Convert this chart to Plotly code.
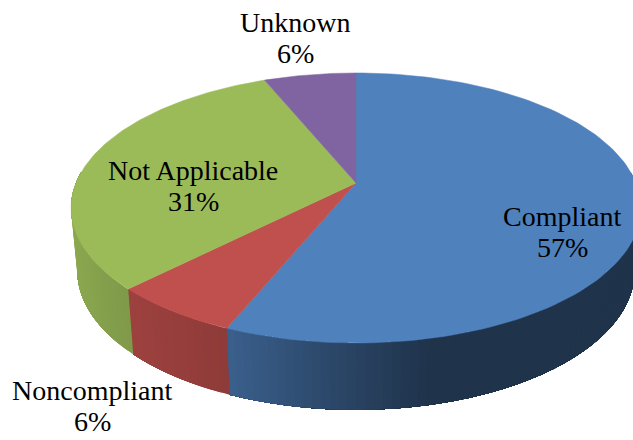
import numpy as np
import plotly.graph_objects as go

categories = ["Compliant", "Noncompliant", "Not Applicable", "Unknown"]
slice_counts = [9, 1, 5, 1]
percent_labels = ["57%", "6%", "31%", "6%"]
colors = [(79, 129, 189), (192, 80, 77), (155, 187, 89), (128, 100, 162)]
label_centres = [(562, 216), (92, 390), (193, 170), (295, 22)]
label_gaps = [31, 31, 31, 31]

W, H = 633, 440
CX, CY = 356, 183
B, A, C = 280.0, 130.4, 0.185
RIM_SX, RIM_SY, RIM_D = 0.978, 1.03, 62


def project(theta):
    u, v = np.sin(theta), np.cos(theta)
    d = 1 + C * v
    return CX + B * u / d, CY - A * v / d


def rim_bottom(x, y):
    return CX + (x - CX) * RIM_SX, CY + (y - CY) * RIM_SY + RIM_D


def shade_at(x):
    return np.interp(x, [70, 130, 230, 330, 430, 633], [0.90, 0.82, 0.74, 0.56, 0.40, 0.40])


fracs = np.array(slice_counts, dtype=float) / sum(slice_counts)
edges = np.concatenate([[0], np.cumsum(fracs)]) * 2 * np.pi

fig = go.Figure()

# Rim: shaded quads along the front of each slice; each reaches to the slice's
# far end and is overpainted by the next, so no seams appear between bands.
for i, col in enumerate(colors):
    lo = max(edges[i], np.radians(85))
    hi = min(edges[i + 1], np.radians(275))
    if hi <= lo:
        continue
    n = max(2, int((hi - lo) / np.radians(1.5)))
    t = np.linspace(lo, hi, n + 1)
    for a, b in zip(t[:-1], t[1:]):
        tt = np.linspace(a, hi, max(2, int((hi - a) / np.radians(1.0)) + 1))
        x, y = project(tt)
        xb, yb = rim_bottom(x, y)
        xm = project(np.array([(a + b) / 2]))[0][0]
        s = shade_at(xm)
        c = "rgb(%d,%d,%d)" % tuple(int(k * s) for k in col)
        fig.add_trace(go.Scatter(
            x=np.concatenate([x, xb[::-1], x[:1]]),
            y=np.concatenate([y, yb[::-1], y[:1]]),
            mode="none", fill="toself", fillcolor=c,
            hoverinfo="skip", showlegend=False))

# Top faces
for i, col in enumerate(colors):
    t = np.linspace(edges[i], edges[i + 1], 120)
    x, y = project(t)
    c = "rgb(%d,%d,%d)" % col
    fig.add_trace(go.Scatter(
        x=np.concatenate([[CX], x, [CX]]),
        y=np.concatenate([[CY], y, [CY]]),
        mode="lines", fill="toself", fillcolor=c,
        line=dict(color=c, width=0.5), name=categories[i], showlegend=False))

font = dict(family="Liberation Serif", size=28, color="#000000")
for name, pct, (lx, ly), gap in zip(categories, percent_labels, label_centres, label_gaps):
    for text, yy in ((name, ly), (pct, ly + gap)):
        fig.add_annotation(x=lx, y=yy, text=text, showarrow=False, font=font,
                           xanchor="center", yanchor="middle")

fig.update_xaxes(range=[0, W], visible=False, fixedrange=True)
fig.update_yaxes(range=[H, 0], visible=False, fixedrange=True)
fig.update_layout(width=W, height=H, margin=dict(l=0, r=0, t=0, b=0),
                  paper_bgcolor="white", plot_bgcolor="white", showlegend=False)
fig.write_html("out.html", post_script="document.body.style.margin='0';",
               config={"displayModeBar": False})
